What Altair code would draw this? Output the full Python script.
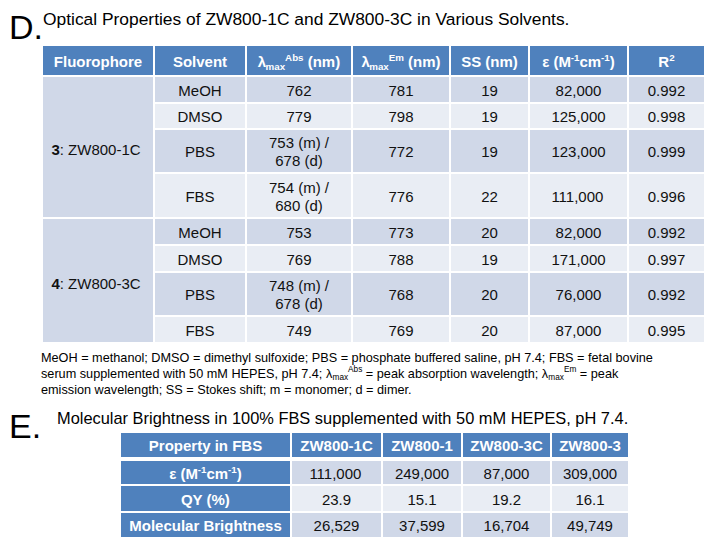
import altair as alt
import pandas as pd

# ---------------- data ----------------
d_title = "Optical Properties of ZW800-1C and ZW800-3C in Various Solvents."
d_headers = ["Fluorophore", "Solvent", "λ_{max}^{Abs} (nm)", "λ_{max}^{Em} (nm)",
             "SS (nm)", "ε (M^{-1}cm^{-1})", "R^{2}"]
fluorophores = ["**3**: ZW800-1C", "**4**: ZW800-3C"]
solvents = ["MeOH", "DMSO", "PBS", "FBS"]
abs_max = [["762", "779", "753 (m) /\n678 (d)", "754 (m) /\n680 (d)"],
           ["753", "769", "748 (m) /\n678 (d)", "749"]]
em_max = [["781", "798", "772", "776"], ["773", "788", "768", "769"]]
stokes = [["19", "19", "19", "22"], ["20", "19", "20", "20"]]
epsilon = [["82,000", "125,000", "123,000", "111,000"],
           ["82,000", "171,000", "76,000", "87,000"]]
r_squared = [["0.992", "0.998", "0.999", "0.996"],
             ["0.992", "0.997", "0.992", "0.995"]]
footnote = [
    "MeOH = methanol; DMSO = dimethyl sulfoxide; PBS = phosphate buffered saline, pH 7.4; FBS = fetal bovine",
    "serum supplemented with 50 mM HEPES, pH 7.4; λ_{max}^{Abs} = peak absorption wavelength; λ_{max}^{Em} = peak",
    "emission wavelength; SS = Stokes shift; m = monomer; d = dimer.",
]

e_title = "Molecular Brightness in 100% FBS supplemented with 50 mM HEPES, pH 7.4."
e_headers = ["Property in FBS", "ZW800-1C", "ZW800-1", "ZW800-3C", "ZW800-3"]
e_properties = ["ε (M^{-1}cm^{-1})", "QY (%)", "Molecular Brightness"]
e_epsilon = ["111,000", "249,000", "87,000", "309,000"]
e_qy = ["23.9", "15.1", "19.2", "16.1"]
e_brightness = ["26,529", "37,599", "16,704", "49,749"]

# ---------------- layout (page pixels) ----------------
W, H, OFF = 698, 530, 8
FONT = "Liberation Sans"
BLUE, DARK, LIGHT = "#4F81BD", "#D0D8E8", "#E9EDF4"
TXT = "#111111"

D_COLS = [42, 154, 246, 352, 450, 529, 628, 705]
D_HEAD = (45, 76)
D_ROWS = [76, 103, 129, 173, 218, 245, 272, 316, 343]
E_COLS = [120, 291, 382, 462, 551, 629]
E_HEAD = (432, 458)
E_ROWS = [460, 485, 512, 538]
BODY = 15
NOTE = 12.7
TITLE_D = 17.4
TITLE_E = 16.4
BIG = 34

# Arial / Helvetica advance widths (1/1000 em)
REG = {' ': 278, '!': 278, '%': 889, '(': 333, ')': 333, ',': 278, '-': 333, '.': 278,
       '/': 278, ':': 278, ';': 278, '=': 584, '*': 389}
BOLD = {' ': 278, '!': 333, '%': 889, '(': 333, ')': 333, ',': 278, '-': 333, '.': 278,
        '/': 278, ':': 333, ';': 333, '=': 584}
for c in "0123456789":
    REG[c] = 556
    BOLD[c] = 556
REG.update(dict(zip("ABCDEFGHIJKLMNOPQRSTUVWXYZ",
                    [667, 667, 722, 722, 667, 611, 778, 722, 278, 500, 667, 556, 833, 722, 778,
                     667, 778, 722, 667, 611, 722, 667, 944, 667, 667, 611])))
REG.update(dict(zip("abcdefghijklmnopqrstuvwxyz",
                    [556, 556, 500, 556, 556, 278, 556, 556, 222, 222, 500, 222, 833, 556, 556,
                     556, 556, 333, 500, 278, 556, 500, 722, 500, 500, 500])))
BOLD.update(dict(zip("ABCDEFGHIJKLMNOPQRSTUVWXYZ",
                     [722, 722, 722, 722, 667, 611, 778, 722, 278, 556, 722, 611, 833, 722, 778,
                      667, 778, 722, 667, 611, 722, 667, 944, 667, 667, 611])))
BOLD.update(dict(zip("abcdefghijklmnopqrstuvwxyz",
                     [556, 611, 556, 611, 556, 333, 611, 611, 278, 278, 556, 278, 889, 611, 611,
                      611, 611, 389, 556, 333, 611, 556, 778, 556, 556, 500])))
REG.update({'λ': 500, 'ε': 440})
BOLD.update({'λ': 520, 'ε': 460})


def tw(s, size, bold):
    t = BOLD if bold else REG
    return sum(t.get(c, 556) for c in s) * size / 1000.0


def parse(s):
    segs, buf, bold, i = [], "", False, 0
    while i < len(s):
        if s.startswith("**", i):
            if buf:
                segs.append((buf, bold, "n"))
                buf = ""
            bold = not bold
            i += 2
        elif s[i] in "_^" and i + 1 < len(s) and s[i + 1] == "{":
            if buf:
                segs.append((buf, bold, "n"))
                buf = ""
            j = s.index("}", i)
            segs.append((s[i + 2:j], bold, "sub" if s[i] == "_" else "sup"))
            i = j + 1
        else:
            buf += s[i]
            i += 1
    if buf:
        segs.append((buf, bold, "n"))
    return segs


texts = []


def put(s, x, yc, size, color=TXT, bold=False, align="center", line_h=None):
    lines = s.split("\n")
    lh = line_h or size * 1.15
    for li, line in enumerate(lines):
        y = yc + (li - (len(lines) - 1) / 2) * lh
        segs = parse(line)
        sizes = [size if k == "n" else size * 0.65 for (_, _, k) in segs]
        widths = [tw(t, fs, b or bold) for (t, b, k), fs in zip(segs, sizes)]
        x0 = x - sum(widths) / 2 if align == "center" else x
        base = y + 0.36 * size
        for (t, b, k), fs, w in zip(segs, sizes, widths):
            by = base + (0.22 * size if k == "sub" else -0.42 * size if k == "sup" else 0)
            lead = len(t) - len(t.lstrip(" "))
            txt = t.strip(" ")
            if txt:
                texts.append(dict(x=x0 + tw(" " * lead, fs, b or bold) - OFF, y=by - OFF,
                                  text=txt, size=fs, color=color, bold=(b or bold)))
            x0 += w


rects = []


def cell(x1, x2, y1, y2, fill):
    rects.append(dict(x=x1 - OFF, x2=x2 - OFF, y=y1 - OFF, y2=y2 - OFF, fill=fill))


# titles
put("D.", 9, 27, BIG, color="#000000", align="left")
put(d_title, 43, 19, TITLE_D, color="#000000", align="left")
put("E.", 9, 426, BIG, color="#000000", align="left")
put(e_title, 57, 418, TITLE_E, color="#000000", align="left")

# table D header
for c, h in enumerate(d_headers):
    cell(D_COLS[c], D_COLS[c + 1], D_HEAD[0], D_HEAD[1], BLUE)
    put(h, (D_COLS[c] + D_COLS[c + 1]) / 2, (D_HEAD[0] + D_HEAD[1]) / 2 + 1, BODY,
        color="white", bold=True)

# table D body
for g in range(2):
    top, bot = D_ROWS[g * 4], D_ROWS[g * 4 + 4]
    cell(D_COLS[0], D_COLS[1], top, bot, DARK)
    put(fluorophores[g], (D_COLS[0] + D_COLS[1]) / 2 - 2, (top + bot) / 2 + 3, BODY)
    for r in range(4):
        y1, y2 = D_ROWS[g * 4 + r], D_ROWS[g * 4 + r + 1]
        fill = DARK if r % 2 == 0 else LIGHT
        vals = [solvents[r], abs_max[g][r], em_max[g][r], stokes[g][r],
                epsilon[g][r], r_squared[g][r]]
        for c, v in enumerate(vals, start=1):
            cell(D_COLS[c], D_COLS[c + 1], y1, y2, fill)
            put(v, (D_COLS[c] + D_COLS[c + 1]) / 2, (y1 + y2) / 2 + 1, BODY, line_h=18)

# footnote
for i, line in enumerate(footnote):
    put(line, 41, 357 + i * 16, NOTE, color="#000000", align="left")

# table E
for c, h in enumerate(e_headers):
    cell(E_COLS[c], E_COLS[c + 1], E_HEAD[0], E_HEAD[1], BLUE)
    put(h, (E_COLS[c] + E_COLS[c + 1]) / 2, (E_HEAD[0] + E_HEAD[1]) / 2 + 1, BODY,
        color="white", bold=True)
e_values = [e_epsilon, e_qy, e_brightness]
for r in range(3):
    y1, y2 = E_ROWS[r], E_ROWS[r + 1]
    cell(E_COLS[0], E_COLS[1], y1, y2, BLUE)
    put(e_properties[r], (E_COLS[0] + E_COLS[1]) / 2, (y1 + y2) / 2 + 1, BODY,
        color="white", bold=True)
    fill = DARK if r % 2 == 0 else LIGHT
    for c, v in enumerate(e_values[r], start=1):
        cell(E_COLS[c], E_COLS[c + 1], y1, y2, fill)
        put(v, (E_COLS[c] + E_COLS[c + 1]) / 2, (y1 + y2) / 2 + 1, BODY)

rect_df = pd.DataFrame(rects)
text_df = pd.DataFrame(texts)

xs = alt.Scale(domain=[0, W], nice=False, zero=False)
ys = alt.Scale(domain=[0, H], reverse=True, nice=False, zero=False)

rect_layer = alt.Chart(rect_df).mark_rect(stroke="white", strokeWidth=2).encode(
    x=alt.X("x:Q", scale=xs, axis=None), x2="x2:Q",
    y=alt.Y("y:Q", scale=ys, axis=None), y2="y2:Q",
    fill=alt.Fill("fill:N", scale=None),
)


def text_layer(df, weight):
    return alt.Chart(df).mark_text(align="left", baseline="alphabetic", font=FONT,
                                   fontWeight=weight).encode(
        x=alt.X("x:Q", scale=xs, axis=None),
        y=alt.Y("y:Q", scale=ys, axis=None),
        text="text:N",
        size=alt.Size("size:Q", scale=None),
        color=alt.Color("color:N", scale=None),
    )


chart = alt.layer(
    rect_layer,
    text_layer(text_df[~text_df.bold], "normal"),
    text_layer(text_df[text_df.bold], "bold"),
).properties(
    width=W, height=H, padding=0,
    autosize=alt.AutoSizeParams(type="none"),
    background="white",
).configure_view(stroke=None)

chart.save("out.html", embed_options={"renderer": "svg", "actions": False})
